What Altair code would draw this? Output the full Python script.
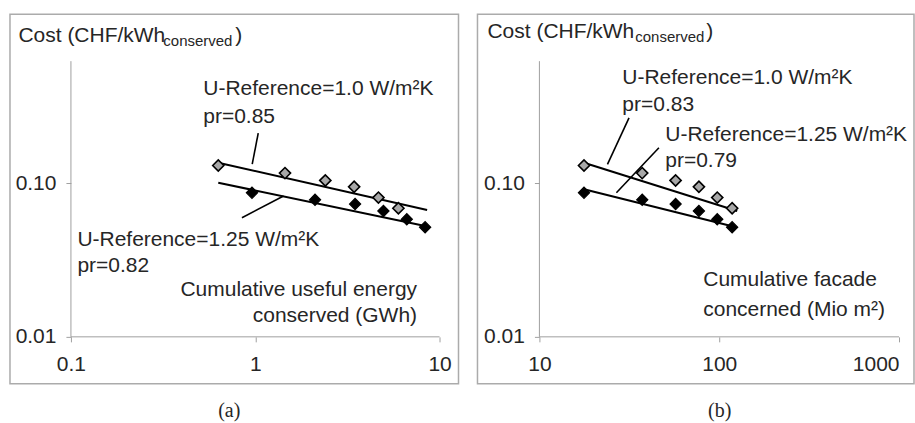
import altair as alt
import pandas as pd

# ---------------- data ----------------
# panel (a): cumulative useful energy conserved (GWh)
energy_u100 = [0.63, 1.45, 2.40, 3.44, 4.66, 5.98]
energy_u125 = [0.96, 2.11, 3.48, 4.96, 6.64, 8.35]
# panel (b): cumulative facade concerned (Mio m2)
facade_u100 = [17.7, 37.3, 57.2, 77.1, 97.5, 118.0]
facade_u125 = [17.7, 37.3, 57.2, 77.1, 97.5, 118.0]
# cost (CHF/kWh conserved)
cost_u100 = [0.130, 0.116, 0.104, 0.0945, 0.0804, 0.0685]
cost_u125 = [0.0865, 0.0778, 0.0730, 0.0658, 0.0581, 0.0516]

# fitted learning-curve lines (end points)
fit_a_u100 = ([0.63, 8.56], [0.1355, 0.0668])
fit_a_u125 = ([0.63, 8.35], [0.1004, 0.0526])
fit_b_u100 = ([17.7, 125.9], [0.1355, 0.0658])
fit_b_u125 = ([17.7, 122.7], [0.0912, 0.0518])

# leader lines from the labels to the fitted lines
lead_a_u100 = ([1.038, 0.963], [0.2113, 0.1328])
lead_a_u125 = ([0.847, 1.424], [0.0595, 0.0823])
lead_b_u100 = ([31.5, 23.9], [0.2655, 0.1323])
lead_b_u125 = ([46.2, 26.8], [0.1695, 0.0865])

# tick values
ticks_y = [0.01, 0.1]
ticks_a = [0.1, 1, 10]
ticks_b = [10, 100, 1000]

# texts (label, x, y) in data units
texts_a_left = [
    ("Cost (CHF/kWh", 0.0519, 0.823),
    (")", 0.779, 0.823),
    ("U-Reference=1.0 W/m²K", 0.5225, 0.3727),
    ("pr=0.85", 0.5225, 0.2464),
    ("U-Reference=1.25 W/m²K", 0.1084, 0.0390),
    ("pr=0.82", 0.1084, 0.0264),
]
texts_a_right = [
    ("Cumulative useful energy", 7.55, 0.01845),
    ("conserved (GWh)", 7.55, 0.01251),
]
subs_a = [("conserved", 0.3173, 0.7756)]

texts_b_left = [
    ("Cost (CHF/kWh", 5.142, 0.874),
    (")", 84.7, 0.874),
    ("U-Reference=1.0 W/m²K", 28.92, 0.4394),
    ("pr=0.83", 28.92, 0.2935),
    ("U-Reference=1.25 W/m²K", 50.12, 0.1874),
    ("pr=0.79", 50.12, 0.1270),
    ("Cumulative facade", 81.5, 0.02144),
    ("concerned (Mio m²)", 81.5, 0.01369),
]
texts_b_right = []
subs_b = [("conserved", 34.14, 0.8234)]

FONT = "Liberation Sans"
TXT = "#262626"
AXC = "#a0a0a0"
FS = 21


def panel(xs_u100, xs_u125, fits, leads, xdom, xticks, yoff, tl, tr, subs,
          w, caption, cap_dx, flush):
    ydom = [0.00495, 1.252]
    xsc = alt.Scale(type="log", domain=xdom, nice=False)
    ysc = alt.Scale(type="log", domain=ydom, nice=False)
    xaxis = alt.Axis(values=xticks, format="~g", offset=-47, domain=False,
                     grid=False, tickSize=5, tickColor=AXC, labelFont=FONT,
                     labelFontSize=FS, labelColor=TXT, labelPadding=12,
                     labelFlush=flush, title=None)
    yaxis = alt.Axis(values=ticks_y, format=".2f", offset=yoff, domain=False,
                     grid=False, tickSize=5, tickColor=AXC, labelFont=FONT,
                     labelFontSize=FS, labelColor=TXT, labelPadding=10,
                     title=None)

    # axis lines
    axl = pd.DataFrame({
        "x": [xticks[0], xticks[0]], "x2": [xticks[-1], xticks[0]],
        "y": [0.01, 0.01], "y2": [0.01, 0.62]})
    axis_rules = alt.Chart(axl).mark_rule(color=AXC, strokeWidth=1).encode(
        x=alt.X("x:Q", scale=xsc, axis=xaxis), x2="x2:Q",
        y=alt.Y("y:Q", scale=ysc, axis=yaxis), y2="y2:Q")

    fl = pd.DataFrame({
        "x": [f[0][0] for f in fits], "x2": [f[0][1] for f in fits],
        "y": [f[1][0] for f in fits], "y2": [f[1][1] for f in fits]})
    fit_rules = alt.Chart(fl).mark_rule(color="black", strokeWidth=2).encode(
        x=alt.X("x:Q", scale=xsc), x2="x2:Q",
        y=alt.Y("y:Q", scale=ysc), y2="y2:Q")

    ll = pd.DataFrame({
        "x": [f[0][0] for f in leads], "x2": [f[0][1] for f in leads],
        "y": [f[1][0] for f in leads], "y2": [f[1][1] for f in leads]})
    lead_rules = alt.Chart(ll).mark_rule(color="black", strokeWidth=1.6).encode(
        x=alt.X("x:Q", scale=xsc), x2="x2:Q",
        y=alt.Y("y:Q", scale=ysc), y2="y2:Q")

    p_open = alt.Chart(pd.DataFrame({"x": xs_u100, "y": cost_u100})).mark_point(
        shape="diamond", size=125, filled=True, fill="#a8a8a8", stroke="black",
        strokeWidth=1.6, opacity=1).encode(
        x=alt.X("x:Q", scale=xsc), y=alt.Y("y:Q", scale=ysc))
    p_fill = alt.Chart(pd.DataFrame({"x": xs_u125, "y": cost_u125})).mark_point(
        shape="diamond", size=125, filled=True, fill="black", stroke="black",
        strokeWidth=1.2, opacity=1).encode(
        x=alt.X("x:Q", scale=xsc), y=alt.Y("y:Q", scale=ysc))

    layers = [axis_rules, fit_rules, lead_rules, p_open, p_fill]

    def tlayer(rows, align, size):
        df = pd.DataFrame({"t": [r[0] for r in rows], "x": [r[1] for r in rows],
                           "y": [r[2] for r in rows]})
        return alt.Chart(df).mark_text(
            align=align, baseline="alphabetic", font=FONT, fontSize=size,
            color=TXT).encode(x=alt.X("x:Q", scale=xsc),
                              y=alt.Y("y:Q", scale=ysc), text="t:N")

    if tl:
        layers.append(tlayer(tl, "left", FS))
    if tr:
        layers.append(tlayer(tr, "right", FS))
    if subs:
        layers.append(tlayer(subs, "left", 15))

    return alt.layer(*layers).properties(
        width=w, height=370,
        title=alt.TitleParams(caption, orient="bottom", anchor="middle",
                              font="Liberation Serif", fontSize=20,
                              fontWeight="normal", color=TXT, offset=17,
                              dx=cap_dx))


left = panel(energy_u100, energy_u125, [fit_a_u100, fit_a_u125],
             [lead_a_u100, lead_a_u125], [0.0467, 12.67], ticks_a, -61,
             texts_a_left, texts_a_right, subs_a, 449, "(a)", -5, False)
right = panel(facade_u100, facade_u125, [fit_b_u100, fit_b_u125],
              [lead_b_u100, lead_b_u125], [4.524, 1211.5], ticks_b, -62,
              texts_b_left, texts_b_right, subs_b, 437, "(b)", 24, 20)

chart = alt.hconcat(left, right, spacing=17).properties(
    padding={"left": 9, "top": 13, "right": 0, "bottom": 0},
    background="white",
).configure_view(stroke="#ababab", strokeWidth=1.5)

chart.save("out.html", embed_options={"renderer": "svg", "actions": False})
